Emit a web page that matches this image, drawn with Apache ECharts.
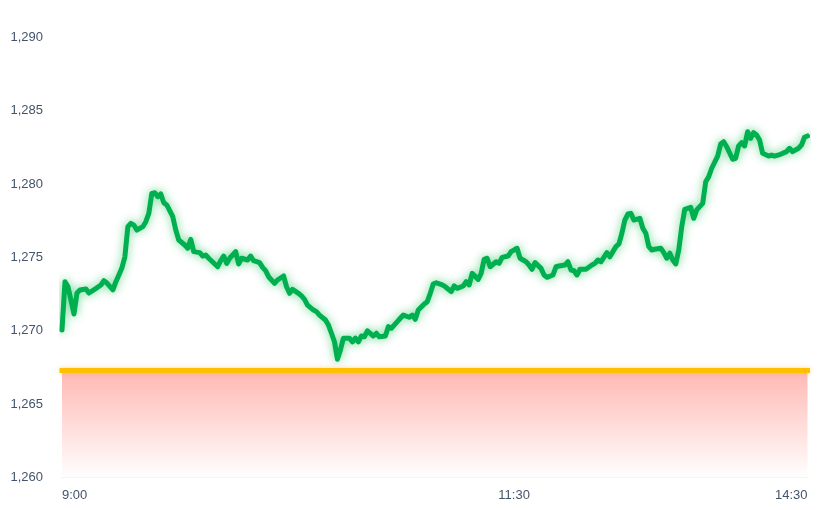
<!DOCTYPE html>
<html>
<head>
<meta charset="utf-8">
<script src="https://cdn.jsdelivr.net/npm/echarts@6/dist/echarts.min.js"></script>
<style>
html,body{margin:0;padding:0;background:#fff;}
#c{width:835px;height:510px;}
</style>
</head>
<body>
<div id="c"></div>
<script>
// ---- data ----
const sampleCount = 250;                     // intraday sample slots on the x axis
const timeTickIdx = [0, 151, 249];           // slots carrying a time label
const timeLabels  = ['9:00', '11:30', '14:30'];
const yTicks = [1260, 1265, 1270, 1275, 1280, 1285, 1290];
const refPrice = 1267.3;                     // reference (previous close) level

const priceIdx = [0,1,2,4,5,6,8,9,11,13,14,15,17,18,19,20,21,22,23,24,25,27,28,29,30,31,32,33,34,35,37,38,39,41,42,43,44,46,47,48,49,52,53,54,55,56,58,59,60,62,63,64,66,67,68,69,71,72,74,75,76,77,79,80,81,82,84,85,86,88,89,90,91,92,93,94,96,97,98,99,100,101,102,104,105,106,108,109,110,112,113,114,116,117,118,119,121,122,123,124,125,127,128,130,131,132,134,135,136,137,139,140,141,142,143,145,146,147,149,150,151,152,153,155,156,157,158,160,161,162,164,165,166,168,169,170,171,172,173,175,177,178,179,180,182,183,185,186,187,188,189,190,191,193,194,195,196,197,198,200,201,202,203,204,205,206,207,208,210,211,212,214,215,216,217,219,220,221,222,224,225,226,227,228,229,230,231,232,233,234,236,237,238,240,242,243,244,246,247,248,249];
const priceVal = [1270.06,1273.35,1273.01,1271.15,1272.58,1272.79,1272.85,1272.58,1272.85,1273.13,1273.42,1273.26,1272.79,1273.35,1273.81,1274.28,1275.05,1277.10,1277.33,1277.21,1276.87,1277.10,1277.44,1278.01,1279.37,1279.41,1279.14,1279.33,1278.73,1278.58,1277.78,1276.87,1276.19,1275.85,1275.63,1276.24,1275.40,1275.33,1275.10,1275.17,1274.95,1274.37,1274.78,1275.10,1274.60,1274.95,1275.40,1274.56,1274.95,1274.83,1275.10,1274.78,1274.65,1274.33,1274.10,1273.69,1273.24,1273.47,1273.74,1273.01,1272.56,1272.83,1272.56,1272.38,1272.15,1271.76,1271.42,1271.31,1271.08,1270.74,1270.40,1269.84,1269.26,1268.07,1268.70,1269.50,1269.50,1269.26,1269.50,1269.26,1269.65,1269.60,1270.01,1269.65,1269.84,1269.60,1269.65,1270.29,1270.18,1270.63,1270.86,1271.08,1270.93,1271.08,1270.79,1271.42,1271.83,1271.99,1272.56,1273.19,1273.28,1273.13,1273.01,1272.67,1273.06,1272.90,1273.06,1273.35,1273.13,1273.92,1273.51,1273.92,1274.88,1274.95,1274.37,1274.71,1274.60,1275.01,1275.10,1275.40,1275.51,1275.63,1274.95,1274.71,1274.49,1274.20,1274.65,1274.26,1273.81,1273.65,1273.81,1274.37,1274.42,1274.49,1274.71,1274.15,1274.10,1273.81,1274.20,1274.20,1274.49,1274.60,1274.83,1274.71,1275.33,1275.05,1275.74,1275.92,1276.65,1277.55,1277.96,1278.01,1277.55,1277.67,1276.99,1276.65,1275.74,1275.51,1275.56,1275.63,1275.33,1274.95,1275.29,1274.83,1274.56,1275.51,1277.10,1278.28,1278.42,1277.67,1278.24,1278.69,1280.16,1280.50,1281.08,1281.91,1282.73,1282.89,1282.55,1281.69,1281.76,1282.60,1282.82,1282.60,1283.57,1283.12,1283.50,1283.34,1283.00,1282.10,1281.91,1281.98,1281.91,1282.03,1282.21,1282.44,1282.21,1282.44,1282.66,1283.19,1283.28];

// ---- build ----
const categories = [];
for (let i = 0; i < sampleCount; i++) categories.push(String(i));
const lineData = priceIdx.map((k, j) => [k, priceVal[j]]);
const labelColor = '#44546A';
const font = '"Liberation Sans", Arial, sans-serif';

const chart = echarts.init(document.getElementById('c'), null, {renderer: 'canvas'});
chart.setOption({
  animation: false,
  backgroundColor: '#ffffff',
  grid: {left: 62, right: 27.5, top: 37.3, bottom: 32.3, containLabel: false},
  xAxis: {
    type: 'category',
    data: categories,
    boundaryGap: false,
    axisLine: {show: true, lineStyle: {color: '#D9D9D9', width: 1}},
    axisTick: {show: false},
    splitLine: {show: false},
    axisLabel: {
      interval: (idx) => timeTickIdx.indexOf(idx) >= 0,
      formatter: (val, idx) => {
        const k = timeTickIdx.indexOf(Number(val));
        return k >= 0 ? timeLabels[k] : '';
      },
      color: labelColor,
      fontFamily: font,
      fontSize: 13,
      margin: 11,
      alignMinLabel: 'left',
      alignMaxLabel: 'right'
    }
  },
  yAxis: {
    type: 'value',
    min: yTicks[0],
    max: yTicks[yTicks.length - 1],
    interval: yTicks[1] - yTicks[0],
    axisLine: {show: false},
    axisTick: {show: false},
    splitLine: {show: false},
    axisLabel: {
      color: labelColor,
      fontFamily: font,
      fontSize: 13,
      margin: 19,
      formatter: (v) => v.toLocaleString('en-US')
    }
  },
  series: [{
    type: 'line',
    data: lineData,
    showSymbol: false,
    symbol: 'none',
    smooth: false,
    z: 5,
    lineStyle: {
      color: '#00B050',
      width: 5,
      cap: 'round',
      join: 'round',
      shadowColor: 'rgba(60,200,110,0.75)',
      shadowBlur: 10
    },
    markArea: {
      silent: true,
      itemStyle: {
        color: new echarts.graphic.LinearGradient(0, 0, 0, 1, [
          {offset: 0, color: '#FFB8B3'},
          {offset: 1, color: '#FFFFFF'}
        ])
      },
      data: [[{yAxis: refPrice}, {yAxis: yTicks[0]}]]
    },
    markLine: {
      silent: true,
      symbol: 'none',
      label: {show: false},
      lineStyle: {
        color: '#FFC000',
        width: 5,
        type: 'solid',
        cap: 'square',
        shadowColor: 'rgba(255,170,60,0.45)',
        shadowBlur: 5
      },
      data: [{yAxis: refPrice}]
    }
  }]
});
</script>
</body>
</html>
